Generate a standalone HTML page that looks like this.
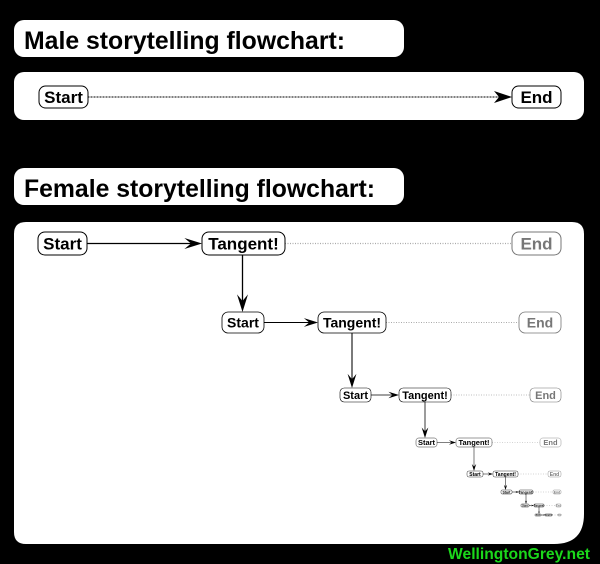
<!DOCTYPE html>
<html><head><meta charset="utf-8"><style>
html,body{margin:0;padding:0;background:#000;width:600px;height:564px;overflow:hidden}
svg{display:block}
text{font-family:"Liberation Sans",Arial,sans-serif;font-weight:bold}
</style></head><body>
<svg id="s" width="600" height="564" viewBox="0 0 600 564" xmlns="http://www.w3.org/2000/svg">
<rect x="0" y="0" width="600" height="564" fill="#000"/>
<rect x="14" y="20" width="390" height="37" rx="10" fill="#fff"/>
<text x="24" y="49" font-size="25" fill="#000" textLength="321" lengthAdjust="spacingAndGlyphs">Male storytelling flowchart:</text>
<rect x="14" y="72" width="570" height="48" rx="10" fill="#fff"/>
<rect x="14" y="168" width="390" height="37" rx="10" fill="#fff"/>
<text x="24" y="197" font-size="25" fill="#000" textLength="351" lengthAdjust="spacingAndGlyphs">Female storytelling flowchart:</text>
<path d="M26 222 H572 Q584 222 584 234 V514 Q584 544 554 544 H26 Q14 544 14 532 V234 Q14 222 26 222 Z" fill="#fff"/>
<g id="g"></g>
<text x="448" y="559" font-size="16" fill="#1bd81b" textLength="142" lengthAdjust="spacingAndGlyphs">WellingtonGrey.net</text>
</svg>
<script>
var g=document.getElementById('g'),h='';
function node(x1,y1,x2,y2,t,fs,col,sw){
 var r=(y2-y1)*0.3;
 h+='<rect x="'+x1+'" y="'+y1+'" width="'+(x2-x1)+'" height="'+(y2-y1)+'" rx="'+r+'" fill="#fff" stroke="'+col+'" stroke-width="'+sw+'"/>';
 h+='<text x="'+((x1+x2)/2)+'" y="'+(y1+(y2-y1)*0.5+fs*0.36)+'" font-size="'+fs+'" text-anchor="middle" fill="'+col+'">'+t+'</text>';
}
function arrowR(x1,x2,y,s,dotted,col){
 if(dotted){h+='<line x1="'+x1+'" y1="'+y+'" x2="'+x2+'" y2="'+y+'" stroke="'+col+'" stroke-width="'+Math.max(0.5,s*0.12)+'" stroke-dasharray="1,1.5"/>';return;}
 var a=s*1.1;
 h+='<line x1="'+x1+'" y1="'+y+'" x2="'+(x2-a*0.6)+'" y2="'+y+'" stroke="#000" stroke-width="'+Math.max(0.5,s*0.13)+'"/>';
 h+='<path d="M'+x2+' '+y+' L'+(x2-a*1.6)+' '+(y-a*0.5)+' L'+(x2-a)+' '+y+' L'+(x2-a*1.6)+' '+(y+a*0.5)+' Z" fill="#000"/>';
}
function arrowD(x,y1,y2,s){
 var a=s*1.1;
 h+='<line x1="'+x+'" y1="'+y1+'" x2="'+x+'" y2="'+(y2-a)+'" stroke="#000" stroke-width="'+Math.max(0.5,s*0.13)+'"/>';
 h+='<path d="M'+x+' '+y2+' L'+(x-a*0.5)+' '+(y2-a*1.6)+' L'+x+' '+(y2-a)+' L'+(x+a*0.5)+' '+(y2-a*1.6)+' Z" fill="#000"/>';
}
// male
h+='<line x1="88" y1="97" x2="500" y2="97" stroke="#000" stroke-width="1" stroke-dasharray="1,0.5"/>';
h+='<path d="M512 97 L494 91 L499 97 L494 103 Z" fill="#000"/>';
node(39,86,88,108,'Start',17,'#000',1);
node(512,86,561,108,'End',17,'#000',1);
var L=[
 [38,87,202,285,512,232,255,17,10],
 [222,264,318,386,519,312,333,14,8],
 [340,371,399,451,530,388,402,11,6],
 [416,437,456,492,540,438,447,7.5,4],
 [467,483,493,518,548,471,477,5,3],
 [501,512,519,533,553,490,494,3.5,2],
 [521,529,534,544,556,504,507,2.5,1.6],
 [535,541,545,552,558,514,516,2,1.2]
];
for(var i=0;i<L.length;i++){
 var l=L[i],sx1=l[0],sx2=l[1],tx1=l[2],tx2=l[3],ex1=l[4],y1=l[5],y2=l[6],fs=l[7],s=l[8],yc=(y1+y2)/2;
 arrowR(sx2,tx1,yc,s,false);
 arrowR(tx2,ex1,yc,s,true,'#aaa');
 if(i+1<L.length){var n=L[i+1];arrowD((tx1+tx2)/2-(i==0?1:0),y2,n[5],s);}
 node(sx1,y1,sx2,y2,'Start',fs,'#000',Math.max(0.4,s*0.1));
 node(tx1,y1,tx2,y2,'Tangent!',fs,'#000',Math.max(0.4,s*0.1));
 node(ex1,y1,561,y2,'End',fs,'#777',Math.max(0.4,s*0.1));
}
g.innerHTML=h;
</script>
</body></html>
